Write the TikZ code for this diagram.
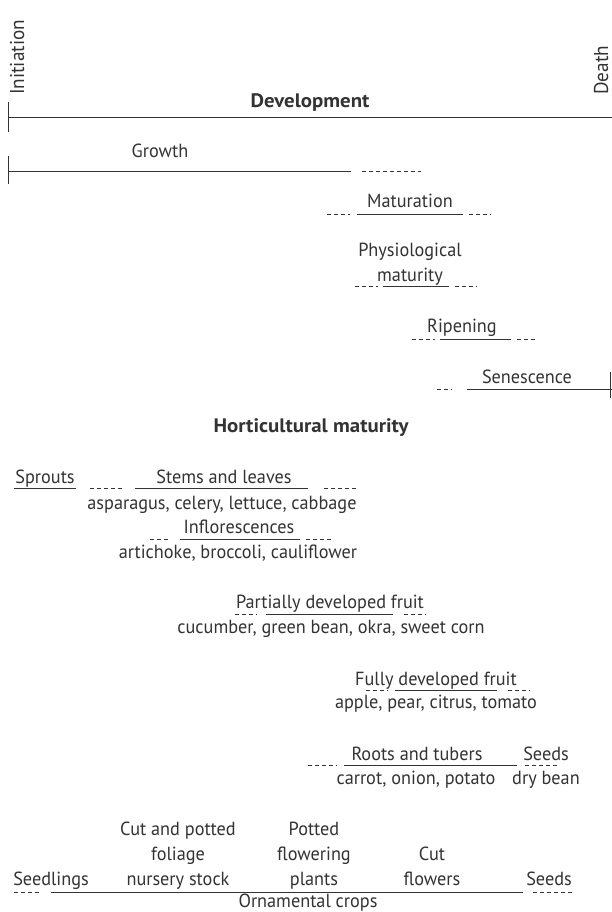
\documentclass[tikz,border=0pt]{standalone}
\usepackage{fontspec}
\setmainfont{PT Sans}[FakeStretch=0.96]
\newfontfamily\headfont{PT Sans}[FakeStretch=1.07]
\usepackage{tikz}

\definecolor{ink}{HTML}{333333}

\begin{document}
\begin{tikzpicture}[x=1bp, y=-1bp,
  every node/.style={inner sep=0pt, text=ink, font=\fontsize{19bp}{25bp}\selectfont},
  lbl/.style={anchor=base},
  head/.style={anchor=base, font=\fontsize{19.5bp}{25bp}\headfont\bfseries},
  end/.style={rotate=90, anchor=base west, font=\fontsize{20bp}{25bp}\selectfont},
  bar/.style={draw=ink, line width=1bp},
  dbar/.style={draw=ink, line width=0.7bp, dash pattern=on 4bp off 3bp},
  tick/.style={draw=ink, line width=1bp}]

\useasboundingbox[fill=white] (0,0) rectangle (612,912);

% life of the plant
\node[end] (init) at (24,95) {Initiation};
\node[end] (death) at (608,95) {Death};

\node[head] (dev) at (310,107) {Development};
\path[bar] (8,117) -- (612,117);
\path[tick] (8,102) -- (8,132);

\node[lbl] (growth) at (160,157) {Growth};
\path[bar] (8,171) -- (351,171);
\path[dbar] (362,171) -- (421,171);
\path[tick] (8,156) -- (8,184);

\node[lbl] (mat) at (410,207) {Maturation};
\path[dbar] (327,214) -- (350,214);
\path[bar] (357,214) -- (463,214);
\path[dbar] (469,214) -- (491,214);

\node[lbl] (phys) at (410,281) {\begin{tabular}[b]{@{}c@{}}
Physiological \\
maturity
\end{tabular}};
\path[dbar] (355,286) -- (378,286);
\path[bar] (383,286) -- (449,286);
\path[dbar] (455,286) -- (477,286);

\node[lbl] (ripe) at (462,332) {Ripening};
\path[dbar] (412,339) -- (435,339);
\path[bar] (440,339) -- (511,339);
\path[dbar] (517,339) -- (537,339);

\node[lbl] (sen) at (527,383) {Senescence};
\path[dbar] (437,389) -- (452,389);
\path[bar] (467,389) -- (612,389);
\path[tick] (610,372) -- (610,398);

% horticultural maturity
\node[head] (hort) at (311,432) {Horticultural maturity};

\node[lbl] (sprouts) at (45,483) {Sprouts};
\node[lbl] (stems) at (224,483) {Stems and leaves};
\node[lbl] (stemsex) at (222,509) {asparagus, celery, lettuce, cabbage};
\path[bar] (14,488) -- (76,488);
\path[dbar] (90,488) -- (124,488);
\path[bar] (135,488) -- (308,488);
\path[dbar] (324,488) -- (357,488);

\node[lbl] (infl) at (239,533) {Inflorescences};
\node[lbl] (inflex) at (238,558) {artichoke, broccoli, cauliflower};
\path[dbar] (150,539) -- (168,539);
\path[bar] (180,539) -- (300,539);
\path[dbar] (306,539) -- (331,539);

\node[lbl] (pfruit) at (330,608) {Partially developed fruit};
\node[lbl] (pfruitex) at (331,633) {cucumber, green bean, okra, sweet corn};
\path[dbar] (235,614) -- (257,614);
\path[bar] (266,614) -- (393,614);
\path[dbar] (404,614) -- (426,614);

\node[lbl] (ffruit) at (436,685) {Fully developed fruit};
\node[lbl] (ffruitex) at (436,708) {apple, pear, citrus, tomato};
\path[dbar] (366,690) -- (388,690);
\path[bar] (395,690) -- (497,690);
\path[dbar] (508,690) -- (530,690);

\node[lbl] (roots) at (417,760) {Roots and tubers};
\node[lbl] (rootsex) at (416,784) {carrot, onion, potato};
\node[lbl] (seeds) at (546,760) {Seeds};
\node[lbl] (seedsex) at (546,784) {dry bean};
\path[dbar] (308,765) -- (337,765);
\path[bar] (344,765) -- (517,765);
\path[dbar] (525,765) -- (558,765);

% ornamentals
\node[lbl] (seedl) at (51,885) {Seedlings};
\node[lbl] (foliage) at (178,885) {\begin{tabular}[b]{@{}c@{}}
Cut and potted \\
foliage \\
nursery stock
\end{tabular}};
\node[lbl] (potted) at (314,885) {\begin{tabular}[b]{@{}c@{}}
Potted \\
flowering \\
plants
\end{tabular}};
\node[lbl] (cut) at (432,885) {\begin{tabular}[b]{@{}c@{}}
Cut \\
flowers
\end{tabular}};
\node[lbl] (oseeds) at (549,885) {Seeds};
\path[dbar] (14,892) -- (39,892);
\path[bar] (51,892) -- (523,892);
\path[dbar] (533,892) -- (574,892);
\node[lbl] (orn) at (308,907) {Ornamental crops};

\end{tikzpicture}
\end{document}
